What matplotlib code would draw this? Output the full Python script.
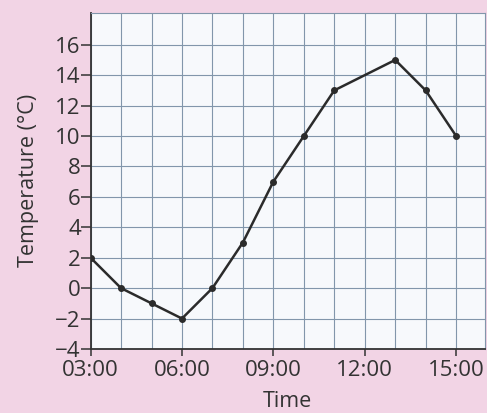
import matplotlib.pyplot as plt
from matplotlib.ticker import MultipleLocator, FuncFormatter

# hourly temperature readings (no reading at 12:00)
hours = [3, 4, 5, 6, 7, 8, 9, 10, 11, 13, 14, 15]
temps = [2, 0, -1, -2, 0, 3, 7, 10, 13, 15, 13, 10]
xticks = [3, 6, 9, 12, 15]
yticks = [-4, -2, 0, 2, 4, 6, 8, 10, 12, 14, 16]

plt.rcParams['font.family'] = ['Open Sans', 'DejaVu Sans']

fig = plt.figure(figsize=(4.87, 4.13), dpi=100, facecolor='#f2d4e5')
ax = fig.add_axes([0.186, 0.155, 0.81, 0.814])
ax.set_facecolor('#f7f9fc')

ax.plot(hours, temps, color='#2b2b2b', lw=1.8, marker='o', ms=4, zorder=3)

ax.set_xlim(3, 15.95)
ax.set_ylim(-4, 18.1)
ax.set_xticks(xticks)
ax.xaxis.set_major_formatter(FuncFormatter(lambda v, p: '%02d:00' % int(v)))
ax.set_yticks(yticks)
ax.yaxis.set_major_formatter(FuncFormatter(lambda v, p: ('\u2212%d' % -v) if v < 0 else '%d' % v))
ax.xaxis.set_minor_locator(MultipleLocator(1))

# blue-grey grid: every hour and every 2 degrees
ax.grid(True, which='both', axis='x', color='#8296ab', lw=0.8)
ax.grid(True, which='major', axis='y', color='#8296ab', lw=0.8)
ax.set_axisbelow(True)

for s in ['left', 'bottom']:
    ax.spines[s].set_color('#333333')
    ax.spines[s].set_linewidth(1.3)
for s in ['top', 'right']:
    ax.spines[s].set_color('#8296ab')
    ax.spines[s].set_linewidth(0.8)

ax.tick_params(axis='both', which='major', labelsize=16, colors='#333333', width=1.1)
ax.tick_params(axis='y', which='major', length=7, pad=0)
ax.tick_params(axis='x', which='major', length=5, pad=3)
ax.tick_params(axis='x', which='minor', length=0)

ax.set_xlabel('Time', fontsize=15.5, color='#333333', labelpad=7)
ax.set_ylabel('Temperature (\u00b0C)', fontsize=15.5, color='#333333', labelpad=12)

fig.savefig('out.png', dpi=100, facecolor=fig.get_facecolor())
